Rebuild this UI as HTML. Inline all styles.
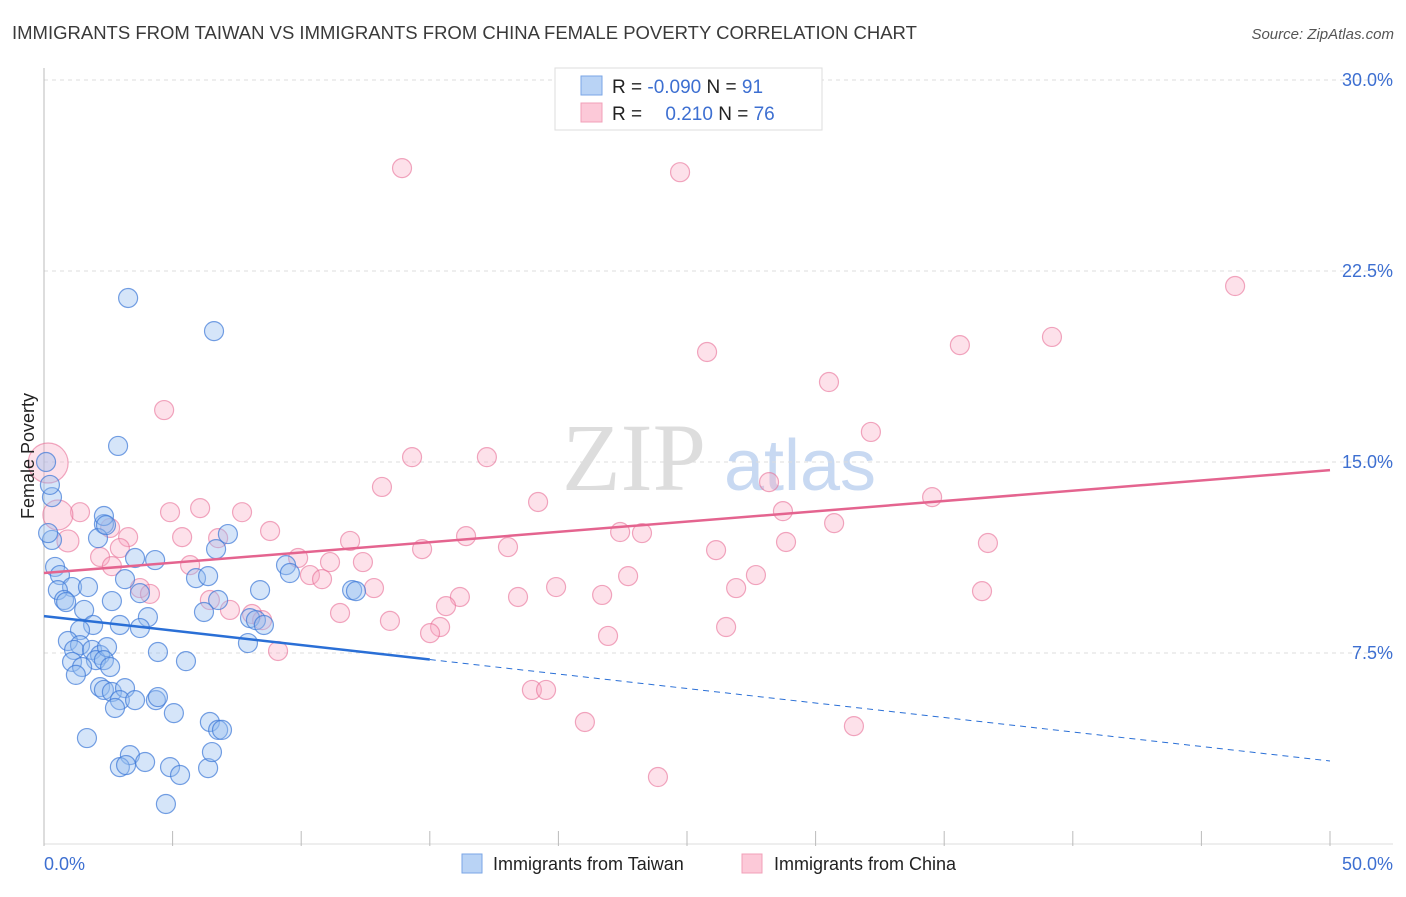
<!DOCTYPE html>
<html><head><meta charset="utf-8"><style>
body{margin:0;background:#fff;font-family:"Liberation Sans",sans-serif}
</style></head><body>
<svg id="c" width="1406" height="892" xmlns="http://www.w3.org/2000/svg" font-family="Liberation Sans, sans-serif">
<text x="12" y="39" font-size="18.5" fill="#3a3a3a">IMMIGRANTS FROM TAIWAN VS IMMIGRANTS FROM CHINA FEMALE POVERTY CORRELATION CHART</text>
<text x="1394" y="39" font-size="15" fill="#555" font-style="italic" text-anchor="end">Source: ZipAtlas.com</text>
<g>
<text x="634" y="490" font-size="96" fill="#ddd" font-family="Liberation Serif, serif" text-anchor="middle">ZIP</text>
<text x="800" y="490" font-size="72" fill="#c8d9f2" text-anchor="middle">atlas</text>
</g>
<g id="grid"></g>
<g id="axes"></g>
<g id="marks"></g>
<text x="0" y="0" font-size="18" fill="#222" transform="translate(34,456) rotate(-90)" text-anchor="middle">Female Poverty</text>
<g>
<rect x="555" y="68" width="267" height="62" fill="#fff" stroke="#ddd"/>
<rect x="581" y="76" width="21" height="19" fill="#b9d3f5" stroke="#7aa6e6"/>
<rect x="581" y="103" width="21" height="19" fill="#fcc9d8" stroke="#f2a0b8"/>
<text x="612" y="93" font-size="19" fill="#222">R = <tspan fill="#3d6fd1">-0.090</tspan>   N = <tspan fill="#3d6fd1">91</tspan></text>
<text x="612" y="120" font-size="19" fill="#222">R = <tspan fill="#3d6fd1" dx="18">0.210</tspan>   N = <tspan fill="#3d6fd1">76</tspan></text>
</g>
<g>
<rect x="462" y="854" width="20" height="19" fill="#b9d3f5" stroke="#7aa6e6"/>
<text x="493" y="870" font-size="18" fill="#222">Immigrants from Taiwan</text>
<rect x="742" y="854" width="20" height="19" fill="#fcc9d8" stroke="#f2a0b8"/>
<text x="774" y="870" font-size="18" fill="#222">Immigrants from China</text>
</g>
</svg>
<script>
const yTicks=[7.5,15,22.5,30];
const yTickLabels=["7.5%","15.0%","22.5%","30.0%"];
const xTicks=[0,5,10,15,20,25,30,35,40,45,50];
const xTickLabels=["0.0%","50.0%"];
const taiwanX=[3.27,6.61,2.88,0.31,0.23,0.31,0.43,0.62,1.09,0.54,1.71,0.78,0.86,1.56,2.64,2.33,2.10,2.33,2.41,3.54,4.32,3.15,3.73,4.04,2.95,3.73,1.91,1.40,0.93,1.40,1.17,1.87,2.18,2.02,2.45,2.33,2.57,1.09,1.48,1.24,4.43,5.52,2.18,2.33,2.64,3.15,2.95,2.76,3.54,4.35,4.43,5.05,1.67,3.34,2.95,3.19,3.93,4.90,5.29,6.38,4.74,6.53,6.45,6.77,6.92,5.91,6.38,6.69,7.15,6.77,6.22,8.40,8.01,8.24,8.55,7.93,9.41,9.56,11.98,12.13,0.16,0.08];
const taiwanY=[21.44,20.14,15.63,13.62,14.10,11.94,10.88,10.56,10.09,9.97,10.09,9.58,9.50,9.19,9.54,12.56,12.01,12.88,12.52,11.23,11.15,10.40,9.85,8.91,8.60,8.48,8.60,8.40,7.97,7.81,7.62,7.62,7.42,7.22,7.73,7.22,6.95,7.15,6.95,6.64,7.54,7.18,6.16,6.05,5.97,6.12,5.65,5.34,5.65,5.65,5.77,5.14,4.16,3.49,3.02,3.10,3.22,3.02,2.71,2.98,1.57,3.61,4.79,4.48,4.48,10.44,10.52,11.58,12.17,9.58,9.11,9.97,8.87,8.79,8.60,7.89,10.95,10.64,9.97,9.93,12.21,15.0];
const chinaX=[13.92,24.73,46.31,39.19,35.61,25.78,30.52,4.67,32.15,14.31,17.22,13.14,28.19,34.53,19.21,6.07,7.70,4.90,1.40,2.57,3.27,5.37,6.77,8.79,16.41,22.40,23.25,28.73,30.72,36.70,28.85,26.13,18.04,14.70,11.90,9.88,12.40,11.12,2.95,2.18,2.64,5.68,10.34,10.81,22.71,27.68,3.73,4.12,12.83,19.91,18.43,16.17,21.70,26.91,36.47,6.45,7.23,8.09,8.48,11.51,15.63,13.45,15.40,15.01,26.52,21.93,9.10,18.97,19.52,21.03,31.49,23.87,0.16,0.54,0.93];
const chinaY=[26.54,26.38,21.91,19.91,19.59,19.32,18.14,17.04,16.18,15.19,15.19,14.02,14.21,13.62,13.43,13.19,13.03,13.03,13.03,12.41,12.05,12.05,12.01,12.29,12.09,12.25,12.21,13.07,12.60,11.82,11.86,11.54,11.66,11.58,11.90,11.23,11.07,11.07,11.62,11.27,10.91,10.95,10.56,10.40,10.52,10.56,10.05,9.82,10.05,10.09,9.70,9.70,9.78,10.05,9.93,9.58,9.19,9.03,8.79,9.07,9.34,8.76,8.52,8.28,8.52,8.17,7.58,6.05,6.05,4.79,4.63,2.63,14.96,12.92,11.90];
const chinaR=[9.5,9.5,9.5,9.5,9.5,9.5,9.5,9.5,9.5,9.5,9.5,9.5,9.5,9.5,9.5,9.5,9.5,9.5,9.5,9.5,9.5,9.5,9.5,9.5,9.5,9.5,9.5,9.5,9.5,9.5,9.5,9.5,9.5,9.5,9.5,9.5,9.5,9.5,9.5,9.5,9.5,9.5,9.5,9.5,9.5,9.5,9.5,9.5,9.5,9.5,9.5,9.5,9.5,9.5,9.5,9.5,9.5,9.5,9.5,9.5,9.5,9.5,9.5,9.5,9.5,9.5,9.5,9.5,9.5,9.5,9.5,9.5,20,15,11];
const taiwanTrend=[8.95,-0.1138];
const chinaTrend=[10.64,0.0808];
const taiwanSolidEnd=15;

const NS="http://www.w3.org/2000/svg";
const X0=44,X1=1330,Y0=844,Y30=80;
const sx=v=>X0+(X1-X0)*v/50;
const sy=v=>Y0-(Y0-Y30)*v/30;
function mk(t,a,p){const e=document.createElementNS(NS,t);for(const k in a)e.setAttribute(k,a[k]);p.appendChild(e);return e;}
const grid=document.getElementById('grid'),axes=document.getElementById('axes'),marks=document.getElementById('marks');
yTicks.forEach((v,i)=>{
 const l=mk('line',{x1:X0,x2:1393,y1:sy(v),y2:sy(v),stroke:'#ddd','stroke-dasharray':'4,4'},grid);
 
 
 const t=mk('text',{x:1393,y:sy(v)+6,'font-size':18,fill:'#3d6fd1','text-anchor':'end'},axes);
 t.textContent=yTickLabels[i];
 
 
});
const ya=mk('line',{x1:X0,x2:X0,y1:68,y2:Y0,stroke:'#bbb'},axes);


const xa=mk('line',{x1:X0,x2:1393,y1:Y0,y2:Y0,stroke:'#ddd'},axes);


xTicks.forEach(v=>{
 const l=mk('line',{x1:sx(v),x2:sx(v),y1:831,y2:846,stroke:'#bbb'},axes);
 
 
});
const xl0=mk('text',{x:44,y:870,'font-size':18,fill:'#3d6fd1'},axes);xl0.textContent=xTickLabels[0];


const xl1=mk('text',{x:1393,y:870,'font-size':18,fill:'#3d6fd1','text-anchor':'end'},axes);xl1.textContent=xTickLabels[1];


chinaX.forEach((v,i)=>{
 const c=mk('circle',{cx:sx(v),cy:sy(chinaY[i]),r:chinaR[i],fill:'rgba(248,170,195,0.35)',stroke:'rgba(232,110,150,0.6)','stroke-width':1.2},marks);
 
 
});
taiwanX.forEach((v,i)=>{
 const c=mk('circle',{cx:sx(v),cy:sy(taiwanY[i]),r:9.5,fill:'rgba(150,190,240,0.4)',stroke:'rgba(60,120,215,0.7)','stroke-width':1.2},marks);
 
 
});
const tf=x=>taiwanTrend[0]+taiwanTrend[1]*x, cf=x=>chinaTrend[0]+chinaTrend[1]*x;
const l1=mk('line',{x1:sx(0),y1:sy(tf(0)),x2:sx(taiwanSolidEnd),y2:sy(tf(taiwanSolidEnd)),stroke:'#2a6fd6','stroke-width':2.5},marks);


const l2=mk('line',{x1:sx(taiwanSolidEnd),y1:sy(tf(taiwanSolidEnd)),x2:sx(50),y2:sy(tf(50)),stroke:'#2a6fd6','stroke-width':1,'stroke-dasharray':'6,5'},marks);


const l3=mk('line',{x1:sx(0),y1:sy(cf(0)),x2:sx(50),y2:sy(cf(50)),stroke:'#e4648f','stroke-width':2.5},marks);


</script>
</body></html>
